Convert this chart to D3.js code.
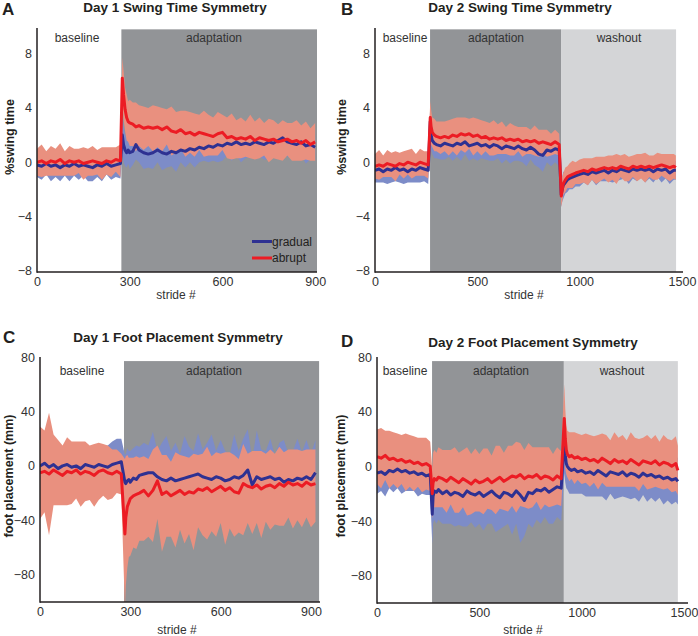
<!DOCTYPE html>
<html><head><meta charset="utf-8">
<script src="https://cdn.jsdelivr.net/npm/d3@7"></script>
<style>body{margin:0;background:#fff}svg{display:block;font-family:"Liberation Sans",Arial,sans-serif}</style>
</head><body><svg id="chart" width="698" height="636"></svg>
<script>
// ---------------- DATA ----------------
const seriesNames = ["gradual", "abrupt"];
const phaseNamesDay1 = ["baseline", "adaptation"];
const phaseNamesDay2 = ["baseline", "adaptation", "washout"];
const swingTicksY = [-8, -4, 0, 4, 8];
const footTicksY = [-80, -40, 0, 40, 80];
const day1TicksX = [0, 300, 600, 900];
const day2TicksX = [0, 500, 1000, 1500];

// Panel A: Day 1 swing time symmetry
const phaseBoundsA = [0, 273, 906];
const stridesA = [0,15,30,45,60,75,90,105,120,135,150,165,180,195,210,225,240,255,270,
 276,280,285,290,295,300,310,320,330,345,
 360,375,390,405,420,435,450,465,480,495,510,525,540,555,570,585,600,615,630,645,660,675,690,705,720,735,750,765,780,795,810,825,840,855,870,885,900];
const gradMeanA = [-0.2,-0.3,-0.1,-0.3,-0.2,-0.4,-0.2,-0.3,-0.1,-0.3,-0.2,-0.3,-0.4,-0.2,-0.3,-0.1,-0.3,-0.2,-0.1,
 2.0,1.3,0.9,0.7,0.9,0.7,0.8,1.3,0.9,0.7,
 0.6,0.7,0.9,0.7,0.6,0.8,0.7,0.9,0.8,1.0,0.9,1.1,1.0,1.2,1.1,1.3,1.2,1.4,1.3,1.5,1.3,1.4,1.3,1.5,1.4,1.3,1.5,1.4,1.6,1.8,1.5,1.4,1.3,1.5,1.2,1.3,1.1];
const gradSdA = [0.9,1.0,0.8,1.1,0.9,1.0,0.8,1.1,0.9,1.0,0.8,1.1,1.0,0.9,1.1,0.8,1.0,0.9,1.1,
 1.4,1.3,1.2,1.1,1.0,1.2,1.0,1.1,0.9,1.2,
 1.0,1.2,0.9,1.3,1.0,1.1,1.4,0.9,1.2,1.0,1.3,1.1,0.9,1.2,1.0,1.3,1.1,0.9,1.2,1.0,1.3,1.1,0.9,1.2,1.0,1.1,1.3,0.9,1.2,1.0,1.1,0.9,1.2,1.0,1.3,1.1,0.9];
const abrMeanA = [0.0,0.1,-0.1,0.1,0.0,0.2,-0.1,0.1,0.0,0.1,-0.1,0.0,0.1,0.0,-0.1,0.1,0.0,0.2,0.1,
 6.2,5.0,3.9,3.3,3.0,2.9,2.8,2.6,2.7,2.5,
 2.6,2.5,2.6,2.4,2.6,2.3,2.2,2.4,2.1,2.2,2.0,2.2,2.1,2.0,1.9,2.1,2.2,1.8,1.9,1.7,1.8,1.7,1.9,1.6,1.8,1.7,1.6,1.7,1.5,1.6,1.7,1.5,1.6,1.4,1.6,1.3,1.5];
const abrSdA = [1.0,1.2,0.9,1.1,1.0,1.2,0.9,1.1,1.0,0.9,1.2,1.0,1.1,0.9,1.2,1.0,1.1,0.9,1.2,
 1.5,1.8,1.6,1.7,1.5,1.7,1.6,1.8,1.5,1.6,
 1.4,1.7,1.5,1.6,1.3,1.8,1.5,1.4,1.7,1.5,1.6,1.3,1.7,1.5,1.4,1.6,1.3,1.5,1.7,1.4,1.5,1.3,1.6,1.4,1.5,1.2,1.6,1.4,1.3,1.5,1.2,1.4,1.5,1.3,1.4,1.2,1.4];

// Panel B: Day 2 swing time symmetry
const phaseBoundsB = [0, 269, 909, 1471];
const stridesB = [0,20,40,60,80,100,120,140,160,180,200,220,240,260,
 270,274,280,290,300,
 320,340,360,380,400,420,440,460,480,500,520,540,560,580,600,620,640,660,680,700,720,740,760,780,800,820,840,860,880,900,
 910,915,920,930,940,950,965,980,1000,
 1020,1040,1060,1080,1100,1120,1140,1160,1180,1200,1220,1240,1260,1280,1300,1320,1340,1360,1380,1400,1420,1440,1460,1470];
const gradMeanB = [-0.6,-0.5,-0.7,-0.5,-0.6,-0.4,-0.6,-0.5,-0.7,-0.5,-0.6,-0.4,-0.5,-0.6,
 3.0,2.0,1.6,1.4,1.3,
 1.2,1.4,1.3,1.2,1.4,1.3,1.5,1.2,1.3,1.4,1.2,1.3,1.1,1.3,1.2,1.0,1.2,1.1,1.0,1.2,1.0,0.9,1.1,0.9,0.6,0.5,0.9,0.8,1.0,0.9,
 -2.4,-2.0,-1.7,-1.5,-1.3,-1.2,-1.1,-1.0,-0.9,
 -0.8,-0.9,-0.7,-0.8,-0.7,-0.6,-0.8,-0.6,-0.7,-0.5,-0.6,-0.7,-0.5,-0.6,-0.5,-0.6,-0.5,-0.7,-0.5,-0.6,-0.5,-0.8,-0.6,-0.6];
const gradSdB = [0.9,1.0,0.8,1.1,0.9,1.0,0.9,1.1,0.8,1.0,0.9,1.1,0.9,1.0,
 1.2,1.1,1.0,1.1,1.0,
 1.0,1.2,0.9,1.1,1.0,1.2,0.9,1.1,1.0,1.3,0.9,1.1,1.0,1.2,0.9,1.1,1.0,1.2,0.9,1.1,1.0,1.2,0.9,1.1,1.0,1.2,0.9,1.1,1.0,1.2,
 0.9,0.9,1.0,0.8,0.9,0.8,0.9,0.8,0.9,
 0.7,0.8,0.6,0.9,0.7,0.8,0.6,0.9,0.7,0.8,0.6,0.9,0.7,0.8,0.6,0.9,0.7,0.8,0.6,0.9,0.7,0.8,0.7,0.7];
const abrMeanB = [-0.3,-0.2,-0.3,-0.1,-0.2,-0.3,-0.1,-0.2,0.0,-0.1,-0.2,0.0,-0.1,-0.2,
 3.3,2.6,2.2,2.0,1.9,
 1.8,1.9,1.8,2.0,1.9,2.1,2.0,2.1,1.9,2.0,1.8,1.9,1.7,1.8,1.7,1.8,1.6,1.7,1.6,1.7,1.5,1.6,1.5,1.6,1.4,1.5,1.4,1.3,1.5,1.3,
 -2.5,-2.0,-1.6,-1.3,-1.1,-1.0,-0.9,-0.8,-0.7,
 -0.6,-0.7,-0.5,-0.6,-0.5,-0.4,-0.5,-0.4,-0.5,-0.3,-0.4,-0.5,-0.3,-0.4,-0.3,-0.4,-0.3,-0.4,-0.3,-0.2,-0.3,-0.4,-0.3,-0.4];
const abrSdB = [0.9,1.1,0.8,1.0,0.9,1.1,0.8,1.0,0.9,1.1,0.8,1.0,0.9,1.0,
 1.2,1.3,1.1,1.2,1.1,
 1.2,1.1,1.3,1.2,1.4,1.2,1.3,1.1,1.4,1.2,1.3,1.1,1.2,1.3,1.1,1.2,1.0,1.2,1.1,0.9,1.1,1.0,0.9,1.1,1.0,0.9,1.0,0.8,0.9,0.8,
 0.8,0.9,0.8,0.9,0.8,0.9,1.0,0.8,0.9,
 0.9,1.0,0.8,1.0,0.9,0.8,1.0,0.9,1.1,0.8,1.0,0.9,0.8,1.0,0.9,1.1,0.8,0.9,1.0,0.8,0.9,1.0,0.9,0.9];

// Panel C: Day 1 foot placement symmetry
const phaseBoundsC = [0, 279, 927];
const stridesC = [0,15,30,45,60,75,90,105,120,135,150,165,180,195,210,225,240,255,270,
 282,285,290,295,300,310,320,330,345,
 360,375,390,405,420,435,450,465,480,495,510,525,540,555,570,585,600,615,630,645,660,675,690,705,720,735,750,765,780,795,810,825,840,855,870,885,900,915];
const gradMeanC = [0,2,-1,1,-2,0,1,-1,0,-2,1,0,-1,1,0,-1,1,2,3,
 -12,-13,-11,-10,-12,-9,-10,-7,-6,
 -5,-5,-8,-10,-11,-9,-11,-10,-9,-8,-7,-6,-8,-9,-10,-8,-9,-11,-10,-8,-9,-7,-3,-14,-8,-10,-9,-8,-10,-9,-12,-10,-11,-9,-10,-8,-10,-5];
const gradSdC = [15,14,16,14,15,13,15,14,16,13,15,14,15,13,15,16,17,18,17,
 20,22,24,21,23,22,25,21,23,
 20,30,19,27,33,20,28,19,31,22,18,30,20,26,33,19,28,22,18,31,20,27,30,19,34,22,20,28,18,26,31,19,22,29,20,27,19,24];
const abrMeanC = [-5,-4,-6,-3,-5,-7,-4,-5,-3,-6,-4,-5,-7,-4,-3,-5,-6,-4,-6,
 -50,-38,-30,-27,-24,-22,-21,-20,-18,
 -22,-18,-11,-21,-19,-22,-20,-18,-21,-19,-20,-17,-18,-16,-19,-17,-15,-18,-16,-19,-20,-13,-15,-16,-14,-17,-15,-14,-16,-13,-15,-12,-14,-13,-15,-12,-14,-13];
// abrupt spread above the mean (abrSdC) and below the mean (abrSdLowC)
const abrSdC = [34,30,45,26,24,22,25,23,21,24,22,20,23,21,19,20,18,16,15,
 55,45,38,33,30,28,28,26,25,
 27,30,26,29,27,25,30,26,28,25,29,25,27,30,26,27,24,28,26,27,25,29,24,27,25,28,24,26,25,27,25,24,26,25,26,24,26,25];
const abrSdLowC = [34,30,45,26,24,22,25,23,21,24,22,20,23,21,19,20,18,16,15,
 55,50,45,40,42,38,40,35,37,
 30,38,28,42,33,30,40,29,36,31,42,28,33,38,29,35,27,40,30,33,29,38,27,34,28,36,26,33,27,31,29,26,32,27,30,26,31,28];

// Panel D: Day 2 foot placement symmetry
const phaseBoundsD = [0, 269, 913, 1470];
const stridesD = [0,20,40,60,80,100,120,140,160,180,200,220,240,260,
 270,274,280,290,300,
 320,340,360,380,400,420,440,460,480,500,520,540,560,580,600,620,640,660,680,700,720,740,760,780,800,820,840,860,880,900,
 915,920,925,930,940,950,965,980,1000,
 1020,1040,1060,1080,1100,1120,1140,1160,1180,1200,1220,1240,1260,1280,1300,1320,1340,1360,1380,1400,1420,1440,1460,1470];
const gradMeanD = [-5,-4,-6,-3,-4,-2,-4,-3,-5,-4,-6,-5,-7,-6,
 -35,-22,-18,-19,-17,
 -20,-18,-21,-19,-20,-22,-18,-20,-21,-19,-22,-20,-18,-21,-23,-19,-20,-22,-18,-21,-25,-19,-20,-17,-18,-16,-19,-17,-15,-16,
 20,8,2,0,-2,-3,-2,-4,-3,
 -5,-4,-6,-3,-5,-7,-4,-5,-6,-4,-7,-5,-6,-8,-5,-7,-6,-8,-7,-9,-8,-10,-9,-11];
const gradSdD = [15,14,16,13,15,14,16,15,13,14,16,15,14,15,
 22,20,21,23,22,
 22,24,21,25,23,22,26,21,24,23,25,22,24,27,23,25,22,28,24,35,26,23,25,22,24,21,23,25,22,24,
 25,20,18,17,18,17,18,16,17,
 17,18,16,19,17,18,16,19,17,18,16,19,17,18,16,19,17,18,16,19,17,18,17,17];
const abrMeanD = [7,6,8,5,6,4,5,3,4,2,3,1,2,0,
 -20,-12,-9,-10,-8,
 -9,-11,-8,-10,-12,-9,-11,-13,-10,-12,-11,-9,-12,-10,-8,-11,-9,-7,-8,-6,-9,-7,-8,-6,-9,-7,-8,-10,-7,-9,
 35,20,12,9,7,8,6,7,5,
 6,4,5,3,6,4,2,5,3,4,2,5,3,1,4,3,2,4,1,3,2,0,2,-3];
const abrSdD = [20,22,18,21,19,20,18,21,19,20,18,20,19,18,
 18,22,21,20,22,
 21,23,20,24,22,21,25,22,23,21,24,22,20,25,23,21,24,22,26,23,21,24,22,20,23,21,22,19,21,20,
 25,22,18,17,18,17,19,17,18,
 18,19,17,20,18,19,17,20,18,19,17,20,18,19,17,20,18,19,17,20,18,19,20,18];

// ---------------- STYLE / LAYOUT ----------------
const COL = {
  redLine: "#ec1c24", blueLine: "#2e3192",
  redBand: "#e9907f", blueBand: "#7d8cc8",
  phase: [null, "#929497", "#d4d5d7"],
  text: "#231f20", tick: "#333333"
};

const panels = [
  { id:"A", title:"Day 1 Swing Time Symmetry", ylab:"%swing time",
    strides:stridesA, gm:gradMeanA, gs:gradSdA, am:abrMeanA, as:abrSdA, asLow:abrSdA,
    phases:phaseNamesDay1, bounds:phaseBoundsA, phaseX:[77,214],
    xDomain:[0,906], xRange:[37,317], axisEnd:317, xTicks:day1TicksX,
    yDomain:[-8.1,9.9], yRange:[272,28], yTicks:swingTicksY, shadeTop:9.8,
    letterPos:[2,15], titlePos:[175,12], ylabPos:[14,137], xlabPos:[176,299], phaseY:42, legend:true },
  { id:"B", title:"Day 2 Swing Time Symmetry", ylab:"%swing time",
    strides:stridesB, gm:gradMeanB, gs:gradSdB, am:abrMeanB, as:abrSdB, asLow:abrSdB,
    phases:phaseNamesDay2, bounds:phaseBoundsB, phaseX:[405,496,619],
    xDomain:[0,1500], xRange:[375,682], axisEnd:683, xTicks:day2TicksX,
    yDomain:[-8.1,9.9], yRange:[272,28], yTicks:swingTicksY, shadeTop:9.8,
    letterPos:[341,15], titlePos:[520,12], ylabPos:[346,137], xlabPos:[524,299], phaseY:42, legend:false },
  { id:"C", title:"Day 1 Foot Placement Symmetry", ylab:"foot placement (mm)",
    strides:stridesC, gm:gradMeanC, gs:gradSdC, am:abrMeanC, as:abrSdC, asLow:abrSdLowC,
    phases:phaseNamesDay1, bounds:phaseBoundsC, phaseX:[82,214],
    xDomain:[0,930], xRange:[40,320], axisEnd:320, xTicks:day1TicksX,
    yDomain:[-100,80], yRange:[602,357], yTicks:footTicksY, shadeTop:77,
    letterPos:[3,343], titlePos:[178,342], ylabPos:[13,476], xlabPos:[177,634], phaseY:375, legend:false },
  { id:"D", title:"Day 2 Foot Placement Symmetry", ylab:"foot placement (mm)",
    strides:stridesD, gm:gradMeanD, gs:gradSdD, am:abrMeanD, as:abrSdD, asLow:abrSdD,
    phases:phaseNamesDay2, bounds:phaseBoundsD, phaseX:[405,501,622],
    xDomain:[0,1500], xRange:[377,684], axisEnd:688, xTicks:day2TicksX,
    yDomain:[-100,80], yRange:[603,357], yTicks:footTicksY, shadeTop:77,
    letterPos:[341,347], titlePos:[533,347], ylabPos:[345,476], xlabPos:[523,634], phaseY:375, legend:false }
];

const svg = d3.select("#chart");

panels.forEach(p => {
  const g = svg.append("g");
  const x = d3.scaleLinear().domain(p.xDomain).range(p.xRange);
  const y = d3.scaleLinear().domain(p.yDomain).range(p.yRange);
  const top = y(p.shadeTop);
  const bottom = p.yRange[0];

  const clipId = "clip" + p.id;
  svg.append("clipPath").attr("id", clipId).append("rect")
    .attr("x", p.xRange[0]).attr("y", p.yRange[1])
    .attr("width", p.axisEnd - p.xRange[0]).attr("height", bottom - p.yRange[1]);

  // phase shading
  p.phases.forEach((name, i) => {
    const x0 = x(p.bounds[i]), x1 = x(p.bounds[i + 1]);
    if (COL.phase[i]) {
      g.append("rect").attr("x", x0).attr("y", top).attr("width", x1 - x0)
        .attr("height", bottom - top).attr("fill", COL.phase[i]);
    }
  });

  const rows = p.strides.map((s, i) => ({ s, gm: p.gm[i], gs: p.gs[i], am: p.am[i], as: p.as[i], al: p.asLow[i] }));
  const plot = g.append("g").attr("clip-path", `url(#${clipId})`);

  const bandG = d3.area().x(d => x(d.s)).y0(d => y(d.gm - d.gs)).y1(d => y(d.gm + d.gs));
  const bandA = d3.area().x(d => x(d.s)).y0(d => y(d.am - d.al)).y1(d => y(d.am + d.as));
  const lineG = d3.line().x(d => x(d.s)).y(d => y(d.gm));
  const lineA = d3.line().x(d => x(d.s)).y(d => y(d.am));

  plot.append("path").datum(rows).attr("d", bandG).attr("fill", COL.blueBand);
  plot.append("path").datum(rows).attr("d", bandA).attr("fill", COL.redBand);
  plot.append("path").datum(rows).attr("d", lineG).attr("fill", "none")
    .attr("stroke", COL.blueLine).attr("stroke-width", 3).attr("stroke-linejoin", "round");
  plot.append("path").datum(rows).attr("d", lineA).attr("fill", "none")
    .attr("stroke", COL.redLine).attr("stroke-width", 3).attr("stroke-linejoin", "round");

  // phase labels
  p.phases.forEach((name, i) => {
    g.append("text").attr("x", p.phaseX[i]).attr("y", p.phaseY).attr("text-anchor", "middle")
      .attr("font-size", 12).attr("fill", COL.tick).text(name);
  });

  // axis lines
  g.append("line").attr("x1", p.xRange[0]).attr("x2", p.xRange[0])
    .attr("y1", p.yRange[1]).attr("y2", bottom + 0.75)
    .attr("stroke", COL.text).attr("stroke-width", 1.5);
  g.append("line").attr("x1", p.xRange[0]).attr("x2", p.axisEnd)
    .attr("y1", bottom).attr("y2", bottom)
    .attr("stroke", COL.text).attr("stroke-width", 1.5);

  // tick labels via d3 axes
  const xa = g.append("g").attr("transform", `translate(0,${bottom})`)
    .call(d3.axisBottom(x).tickValues(p.xTicks).tickSize(0).tickPadding(5).tickFormat(d3.format("d")));
  const ya = g.append("g").attr("transform", `translate(${p.xRange[0]},0)`)
    .call(d3.axisLeft(y).tickValues(p.yTicks).tickSize(0).tickPadding(5).tickFormat(d3.format("d")));
  [xa, ya].forEach(a => {
    a.select(".domain").remove();
    a.selectAll("text").attr("font-size", 12.5).attr("fill", COL.tick)
      .attr("font-family", '"Liberation Sans",Arial,sans-serif');
  });

  // texts
  g.append("text").attr("x", p.letterPos[0]).attr("y", p.letterPos[1])
    .attr("font-size", 17).attr("font-weight", "bold").attr("fill", COL.text).text(p.id);
  g.append("text").attr("x", p.titlePos[0]).attr("y", p.titlePos[1]).attr("text-anchor", "middle")
    .attr("font-size", 13.5).attr("font-weight", "bold").attr("fill", COL.text).text(p.title);
  g.append("text").attr("transform", `translate(${p.ylabPos[0]},${p.ylabPos[1]}) rotate(-90)`)
    .attr("text-anchor", "middle").attr("font-size", 12.5).attr("font-weight", "bold")
    .attr("fill", COL.text).text(p.ylab);
  g.append("text").attr("x", p.xlabPos[0]).attr("y", p.xlabPos[1]).attr("text-anchor", "middle")
    .attr("font-size", 12).attr("fill", COL.tick).text("stride #");

  if (p.legend) {
    const lg = g.append("g");
    const cols = [COL.blueLine, COL.redLine];
    seriesNames.forEach((n, i) => {
      const ly = 241.5 + i * 16.5;
      lg.append("line").attr("x1", 252).attr("x2", 272).attr("y1", ly).attr("y2", ly)
        .attr("stroke", cols[i]).attr("stroke-width", 3);
      lg.append("text").attr("x", 272).attr("y", ly).attr("dy", "0.35em")
        .attr("font-size", 12).attr("fill", COL.text).text(n);
    });
  }
});
</script></body></html>
